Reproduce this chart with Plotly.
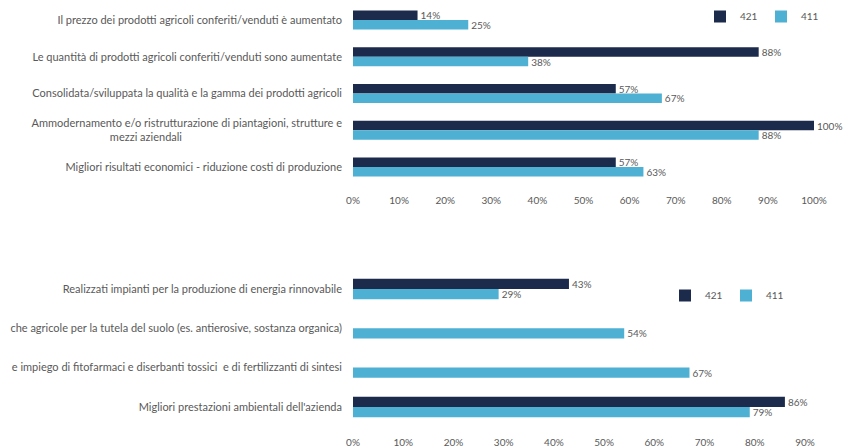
import plotly.graph_objects as go

# The page body has an 8px default margin, so the figure is sized to fit the 851x448 window.
BODY = 8
W, H = 851 - BODY, 448 - BODY

# ---- data ----
top_categories = [
    "Il prezzo dei prodotti agricoli conferiti/venduti è aumentato",
    "Le quantità di prodotti agricoli conferiti/venduti sono aumentate",
    "Consolidata/sviluppata la qualità e la gamma dei prodotti agricoli",
    "Ammodernamento e/o ristrutturazione di piantagioni, strutture e<br>mezzi aziendali" + "\u2800" * 20,
    "Migliori risultati economici - riduzione costi di produzione",
]
top_421 = [14, 88, 57, 100, 57]
top_411 = [25, 38, 67, 88, 63]

bottom_categories = [
    "Realizzati impianti per la produzione di energia rinnovabile",
    "che agricole per la tutela del suolo (es. antierosive, sostanza organica)",
    "e impiego di fitofarmaci e diserbanti tossici  e di fertilizzanti di sintesi",
    "Migliori prestazioni ambientali dell'azienda",
]
bottom_421 = [43, None, None, 86]
bottom_411 = [29, 54, 67, 79]

series_names = ["421", "411"]
top_ticks = [0, 10, 20, 30, 40, 50, 60, 70, 80, 90, 100]
bottom_ticks = [0, 10, 20, 30, 40, 50, 60, 70, 80, 90]

DARK = "#1C2A4C"
LIGHT = "#4EB0D2"
GRAY = "#595959"
FONT = "Lato"


def labels(vals):
    return [("" if v is None else f"{v}%") for v in vals]


def px_x(p):  # page pixel -> paper fraction
    return (p - BODY) / W


def px_y(p):
    return 1 - (p - BODY) / H


fig = go.Figure()
for name, vals, col in [(series_names[0], top_421, DARK), (series_names[1], top_411, LIGHT)]:
    fig.add_trace(go.Bar(
        y=top_categories, x=vals, orientation="h", name=name,
        marker=dict(color=col, line=dict(width=0)),
        text=labels(vals), textposition="outside", constraintext="none",
        textfont=dict(size=10, color=GRAY, family=FONT), cliponaxis=False,
        xaxis="x", yaxis="y", legend="legend",
    ))
for name, vals, col in [(series_names[0], bottom_421, DARK), (series_names[1], bottom_411, LIGHT)]:
    fig.add_trace(go.Bar(
        y=bottom_categories, x=vals, orientation="h", name=name,
        marker=dict(color=col, line=dict(width=0)),
        text=labels(vals), textposition="outside", constraintext="none",
        textfont=dict(size=10, color=GRAY, family=FONT), cliponaxis=False,
        xaxis="x2", yaxis="y2", legend="legend2",
    ))

xaxis_common = dict(showgrid=False, zeroline=False, showline=False, ticks="", automargin=False,
                    tickfont=dict(size=10, color=GRAY, family=FONT), fixedrange=True,
                    ticklabelstandoff=8)
yaxis_common = dict(showgrid=False, zeroline=False, showline=False, ticks="", automargin=False,
                    tickfont=dict(size=11, color=GRAY, family=FONT), fixedrange=True,
                    ticklabelstandoff=10)

legend_common = dict(orientation="h", xanchor="left", yanchor="top",
                     font=dict(size=10, color=GRAY, family=FONT), bgcolor="rgba(0,0,0,0)",
                     entrywidth=16, itemwidth=30)

# top panel: category pitch ~36.75px, first centre at page y=20
top_span = (185.4 - BODY) / 36.75

fig.update_layout(
    width=W, height=H,
    margin=dict(l=0, r=0, t=0, b=0, autoexpand=False),
    paper_bgcolor="white", plot_bgcolor="white",
    font=dict(family=FONT, color=GRAY, size=10),
    barmode="group", bargap=0.48, bargroupgap=0,
    xaxis=dict(domain=[px_x(353), px_x(814)], range=[0, 100], tickvals=top_ticks,
               ticktext=[f"{t}%" for t in top_ticks], anchor="y", **xaxis_common),
    yaxis=dict(domain=[px_y(185.4), 1], anchor="x", range=[4.5, 4.5 - top_span],
               **yaxis_common),
    xaxis2=dict(domain=[px_x(353), px_x(805)], range=[0, 90], tickvals=bottom_ticks,
                ticktext=[f"{t}%" for t in bottom_ticks], anchor="y2", **xaxis_common),
    yaxis2=dict(domain=[px_y(426.6), px_y(269.3)], anchor="x2", autorange="reversed",
                **yaxis_common),
    legend=dict(x=px_x(700), y=px_y(2), **legend_common),
    legend2=dict(x=px_x(665), y=px_y(281), **legend_common),
)

fig.write_html("out.html")
